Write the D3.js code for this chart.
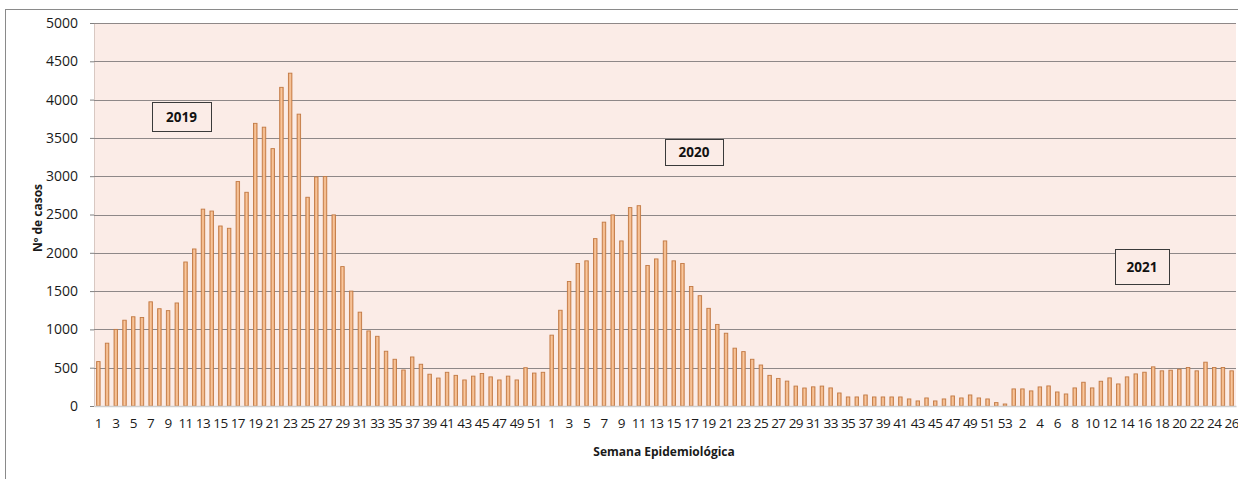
<!DOCTYPE html>
<html>
<head>
<meta charset="utf-8">
<script src="https://cdn.jsdelivr.net/npm/d3@7"></script>
<style>
  html, body { margin: 0; padding: 0; background: #ffffff; }
  svg { display: block; }
</style>
</head>
<body>
<svg id="chart" width="1238" height="479"></svg>
<script>
// Weekly case counts by epidemiological week
const cases2019 = [580, 820, 1000, 1120, 1165, 1155, 1360, 1270, 1245, 1345,
  1880, 2050, 2570, 2545, 2350, 2320, 2930, 2790, 3690, 3640,
  3360, 4160, 4345, 3810, 2725, 2990, 2995, 2495, 1820, 1500,
  1225, 980, 910, 715, 610, 470, 640, 545, 415, 365,
  440, 400, 340, 390, 425, 380, 340, 390, 340, 500,
  430, 440];
const cases2020 = [925, 1250, 1625, 1860, 1895, 2185, 2400, 2495, 2155, 2590,
  2615, 1835, 1920, 2155, 1895, 1860, 1560, 1440, 1275, 1065,
  950, 755, 710, 610, 535, 400, 360, 325, 260, 235,
  250, 260, 236, 170, 118, 118, 144, 118, 118, 118,
  118, 92, 66, 105, 66, 92, 131, 105, 144, 105,
  92, 44, 26];
const cases2021 = [223, 223, 197, 249, 262, 183, 157, 236, 310, 236,
  323, 367, 288, 380, 419, 441, 511, 459, 467, 480,
  502, 459, 572, 502, 502, 459];

const yTicks = [0, 500, 1000, 1500, 2000, 2500, 3000, 3500, 4000, 4500, 5000];
const yearLabels = ["2019", "2020", "2021"];

// One row per week, in calendar order
const rows = [];
[cases2019, cases2020, cases2021].forEach((series, yi) => {
  series.forEach((v, wi) => rows.push({ year: yearLabels[yi], week: wi + 1, value: v }));
});
rows.forEach((d, i) => { d.idx = i; });

const svg = d3.select("#chart");
const plot = { left: 94, right: 1236, top: 23, bottom: 406 };
const font = "'Open Sans', 'Noto Sans', sans-serif";

// Outer chart frame (extends past the right and bottom edges)
svg.append("rect")
  .attr("x", 5.5).attr("y", 9.5)
  .attr("width", 1300).attr("height", 520)
  .attr("fill", "#ffffff").attr("stroke", "#8a8a8a").attr("stroke-width", 1);

const x = d3.scaleBand()
  .domain(rows.map(d => d.idx))
  .range([plot.left, plot.right])
  .paddingInner(0.6)
  .paddingOuter(0.3);

const y = d3.scaleLinear().domain([0, 5000]).range([plot.bottom, plot.top]);

// Plot background
svg.append("rect")
  .attr("x", plot.left).attr("y", plot.top)
  .attr("width", plot.right - plot.left).attr("height", plot.bottom - plot.top)
  .attr("fill", "#fbece7");

// Gradient for the bars
const defs = svg.append("defs");
const grad = defs.append("linearGradient").attr("id", "barGrad")
  .attr("x1", "0").attr("x2", "1").attr("y1", "0").attr("y2", "0");
grad.append("stop").attr("offset", "0%").attr("stop-color", "#e9a36c");
grad.append("stop").attr("offset", "50%").attr("stop-color", "#f8c8a0");
grad.append("stop").attr("offset", "100%").attr("stop-color", "#e9a36c");

// Value axis with short ticks on the left
const yAxis = d3.axisLeft(y).tickValues(yTicks).tickFormat(d3.format("d")).tickSize(4).tickPadding(12);
const gy = svg.append("g").attr("transform", `translate(${plot.left},0)`).call(yAxis);
gy.select(".domain").attr("stroke", "#d8c8c2");
gy.selectAll(".tick line").attr("stroke", "#808080");
gy.selectAll(".tick text")
  .attr("font-family", font)
  .attr("font-size", 14).attr("fill", "#1a1a1a");

// Horizontal gridlines
svg.append("g").selectAll("line")
  .data(yTicks.filter(t => t > 0))
  .join("line")
  .attr("x1", plot.left).attr("x2", plot.right)
  .attr("y1", d => Math.round(y(d)) + 0.5).attr("y2", d => Math.round(y(d)) + 0.5)
  .attr("stroke", "#8e8888").attr("stroke-width", 1.2);

// Bars
svg.append("g").selectAll("rect")
  .data(rows)
  .join("rect")
  .attr("x", d => x(d.idx))
  .attr("y", d => y(d.value))
  .attr("width", x.bandwidth())
  .attr("height", d => y(0) - y(d.value))
  .attr("fill", "url(#barGrad)")
  .attr("stroke", "#c27a45")
  .attr("stroke-width", 0.9);

// Category axis: every other week is labelled
const xAxis = d3.axisBottom(x)
  .tickValues(rows.filter(d => d.idx % 2 === 0).map(d => d.idx))
  .tickFormat(i => rows[i].week)
  .tickSize(0).tickPadding(12);
const gx = svg.append("g").attr("transform", `translate(0,${plot.bottom})`).call(xAxis);
gx.select(".domain").attr("stroke", "#cfcfcf").attr("stroke-width", 1.5);
gx.selectAll(".tick text")
  .attr("font-family", font)
  .attr("font-size", 13.5)
  .attr("letter-spacing", "-0.6px")
  .attr("fill", "#1a1a1a");

// Axis titles
svg.append("text")
  .attr("x", 664).attr("y", 456)
  .attr("text-anchor", "middle")
  .attr("font-family", font)
  .attr("font-size", 12).attr("font-weight", "bold").attr("fill", "#1a1a1a")
  .text("Semana Epidemiológica");

svg.append("text")
  .attr("transform", "translate(42,218) rotate(-90)")
  .attr("text-anchor", "middle")
  .attr("font-family", font)
  .attr("font-size", 12).attr("font-weight", "bold").attr("fill", "#1a1a1a")
  .text("Nº de casos");

// Year annotation boxes
const yearBoxes = [
  { label: yearLabels[0], x: 152, y: 102, w: 59, h: 29 },
  { label: yearLabels[1], x: 665, y: 139, w: 58, h: 26 },
  { label: yearLabels[2], x: 1115, y: 249, w: 54, h: 35 }
];
const gb = svg.append("g").selectAll("g").data(yearBoxes).join("g");
gb.append("rect")
  .attr("x", d => d.x + 0.5).attr("y", d => d.y + 0.5)
  .attr("width", d => d.w).attr("height", d => d.h)
  .attr("fill", "#fbece7").attr("stroke", "#3a3a3a").attr("stroke-width", 1);
gb.append("text")
  .attr("x", d => d.x + d.w / 2).attr("y", d => d.y + d.h / 2 + 5)
  .attr("text-anchor", "middle")
  .attr("font-family", font)
  .attr("font-size", 13.5).attr("font-weight", "bold").attr("fill", "#111")
  .text(d => d.label);
</script>
</body>
</html>
